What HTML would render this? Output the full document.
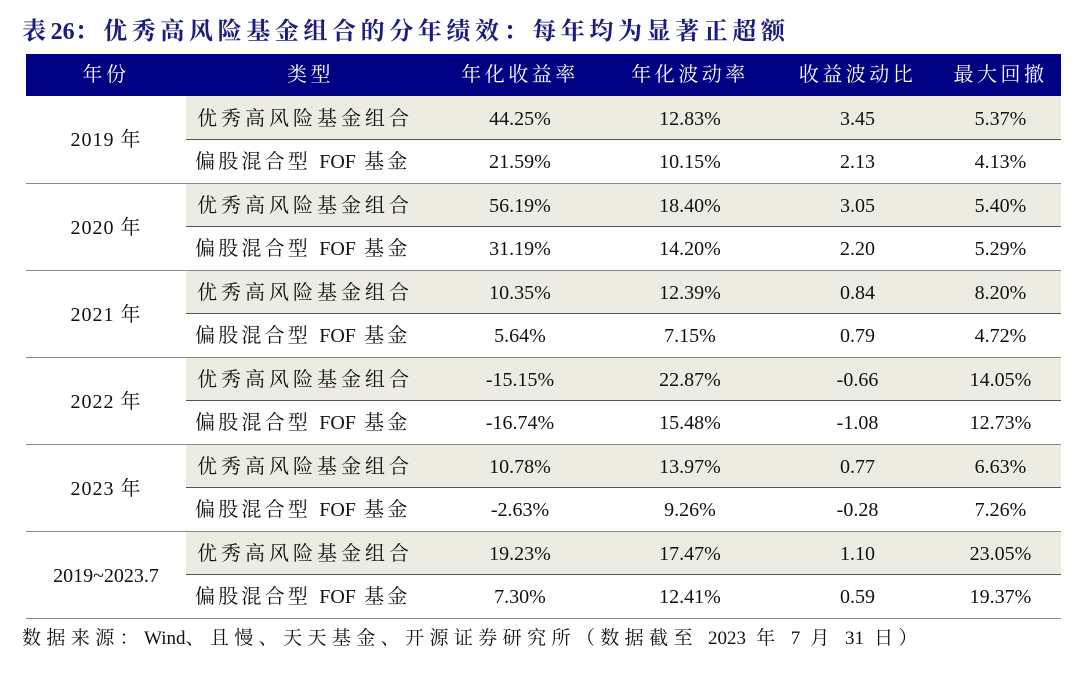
<!DOCTYPE html>
<html><head><meta charset="utf-8"><style>
body{margin:0;width:1080px;height:677px;background:#fff;position:relative;font-family:"Liberation Serif","Noto Serif CJK SC",serif;color:#111;overflow:hidden}
.t{position:absolute;left:22px;top:15px;font-size:24px;line-height:34px;font-weight:bold;color:#1c1c7e;white-space:nowrap;letter-spacing:4.6px}
table{position:absolute;left:26px;top:54px;border-collapse:collapse;width:1035px;font-size:20px;table-layout:fixed}
th{background:#000082;color:#fff;font-weight:normal;height:42px;line-height:20px;padding:0;text-align:center;letter-spacing:3.5px;overflow:hidden}
tr{height:43.5px}
td{height:43.5px;line-height:20px;padding:2px 0 0;text-align:center;white-space:nowrap;overflow:hidden;box-sizing:border-box}
td.ty{text-align:left;padding-left:11px;letter-spacing:4px}
td.ty2{text-align:left;padding-left:9px;letter-spacing:3.2px}
td.y{letter-spacing:1px}
.l{letter-spacing:0}
tr.a td.s{background:#edece2;border-bottom:1px solid #555}
tr.b td{border-bottom:1px solid #888}
.f{position:absolute;left:22px;top:624px;font-size:19px;line-height:30px;white-space:nowrap;letter-spacing:5.4px}
</style></head><body>
<div class="t">表<span class="l">26</span>：优秀高风险基金组合的分年绩效：每年均为显著正超额</div>
<table>
<colgroup><col style="width:160px"><col style="width:249px"><col style="width:170px"><col style="width:170px"><col style="width:165px"><col style="width:121px"></colgroup>
<tr style="height:42px"><th>年份</th><th>类型</th><th>年化收益率</th><th>年化波动率</th><th>收益波动比</th><th>最大回撤</th></tr>
<tr class="a"><td class="y" rowspan="2" style="border-bottom:1px solid #888">2019 年</td><td class="s ty">优秀高风险基金组合</td><td class="s">44.25%</td><td class="s">12.83%</td><td class="s">3.45</td><td class="s">5.37%</td></tr>
<tr class="b"><td class="ty2">偏股混合型 <span class="l">FOF</span> 基金</td><td>21.59%</td><td>10.15%</td><td>2.13</td><td>4.13%</td></tr>
<tr class="a"><td class="y" rowspan="2" style="border-bottom:1px solid #888">2020 年</td><td class="s ty">优秀高风险基金组合</td><td class="s">56.19%</td><td class="s">18.40%</td><td class="s">3.05</td><td class="s">5.40%</td></tr>
<tr class="b"><td class="ty2">偏股混合型 <span class="l">FOF</span> 基金</td><td>31.19%</td><td>14.20%</td><td>2.20</td><td>5.29%</td></tr>
<tr class="a"><td class="y" rowspan="2" style="border-bottom:1px solid #888">2021 年</td><td class="s ty">优秀高风险基金组合</td><td class="s">10.35%</td><td class="s">12.39%</td><td class="s">0.84</td><td class="s">8.20%</td></tr>
<tr class="b"><td class="ty2">偏股混合型 <span class="l">FOF</span> 基金</td><td>5.64%</td><td>7.15%</td><td>0.79</td><td>4.72%</td></tr>
<tr class="a"><td class="y" rowspan="2" style="border-bottom:1px solid #888">2022 年</td><td class="s ty">优秀高风险基金组合</td><td class="s">-15.15%</td><td class="s">22.87%</td><td class="s">-0.66</td><td class="s">14.05%</td></tr>
<tr class="b"><td class="ty2">偏股混合型 <span class="l">FOF</span> 基金</td><td>-16.74%</td><td>15.48%</td><td>-1.08</td><td>12.73%</td></tr>
<tr class="a"><td class="y" rowspan="2" style="border-bottom:1px solid #888">2023 年</td><td class="s ty">优秀高风险基金组合</td><td class="s">10.78%</td><td class="s">13.97%</td><td class="s">0.77</td><td class="s">6.63%</td></tr>
<tr class="b"><td class="ty2">偏股混合型 <span class="l">FOF</span> 基金</td><td>-2.63%</td><td>9.26%</td><td>-0.28</td><td>7.26%</td></tr>
<tr class="a"><td rowspan="2" style="border-bottom:1px solid #888">2019~2023.7</td><td class="s ty">优秀高风险基金组合</td><td class="s">19.23%</td><td class="s">17.47%</td><td class="s">1.10</td><td class="s">23.05%</td></tr>
<tr class="b"><td class="ty2">偏股混合型 <span class="l">FOF</span> 基金</td><td>7.30%</td><td>12.41%</td><td>0.59</td><td>19.37%</td></tr>
</table>
<div class="f">数据来源：<span class="l">Wind</span>、且慢、天天基金、开源证券研究所（数据截至 <span class="l">2023</span> 年 <span class="l">7</span> 月 <span class="l">31</span> 日）</div>
</body></html>
